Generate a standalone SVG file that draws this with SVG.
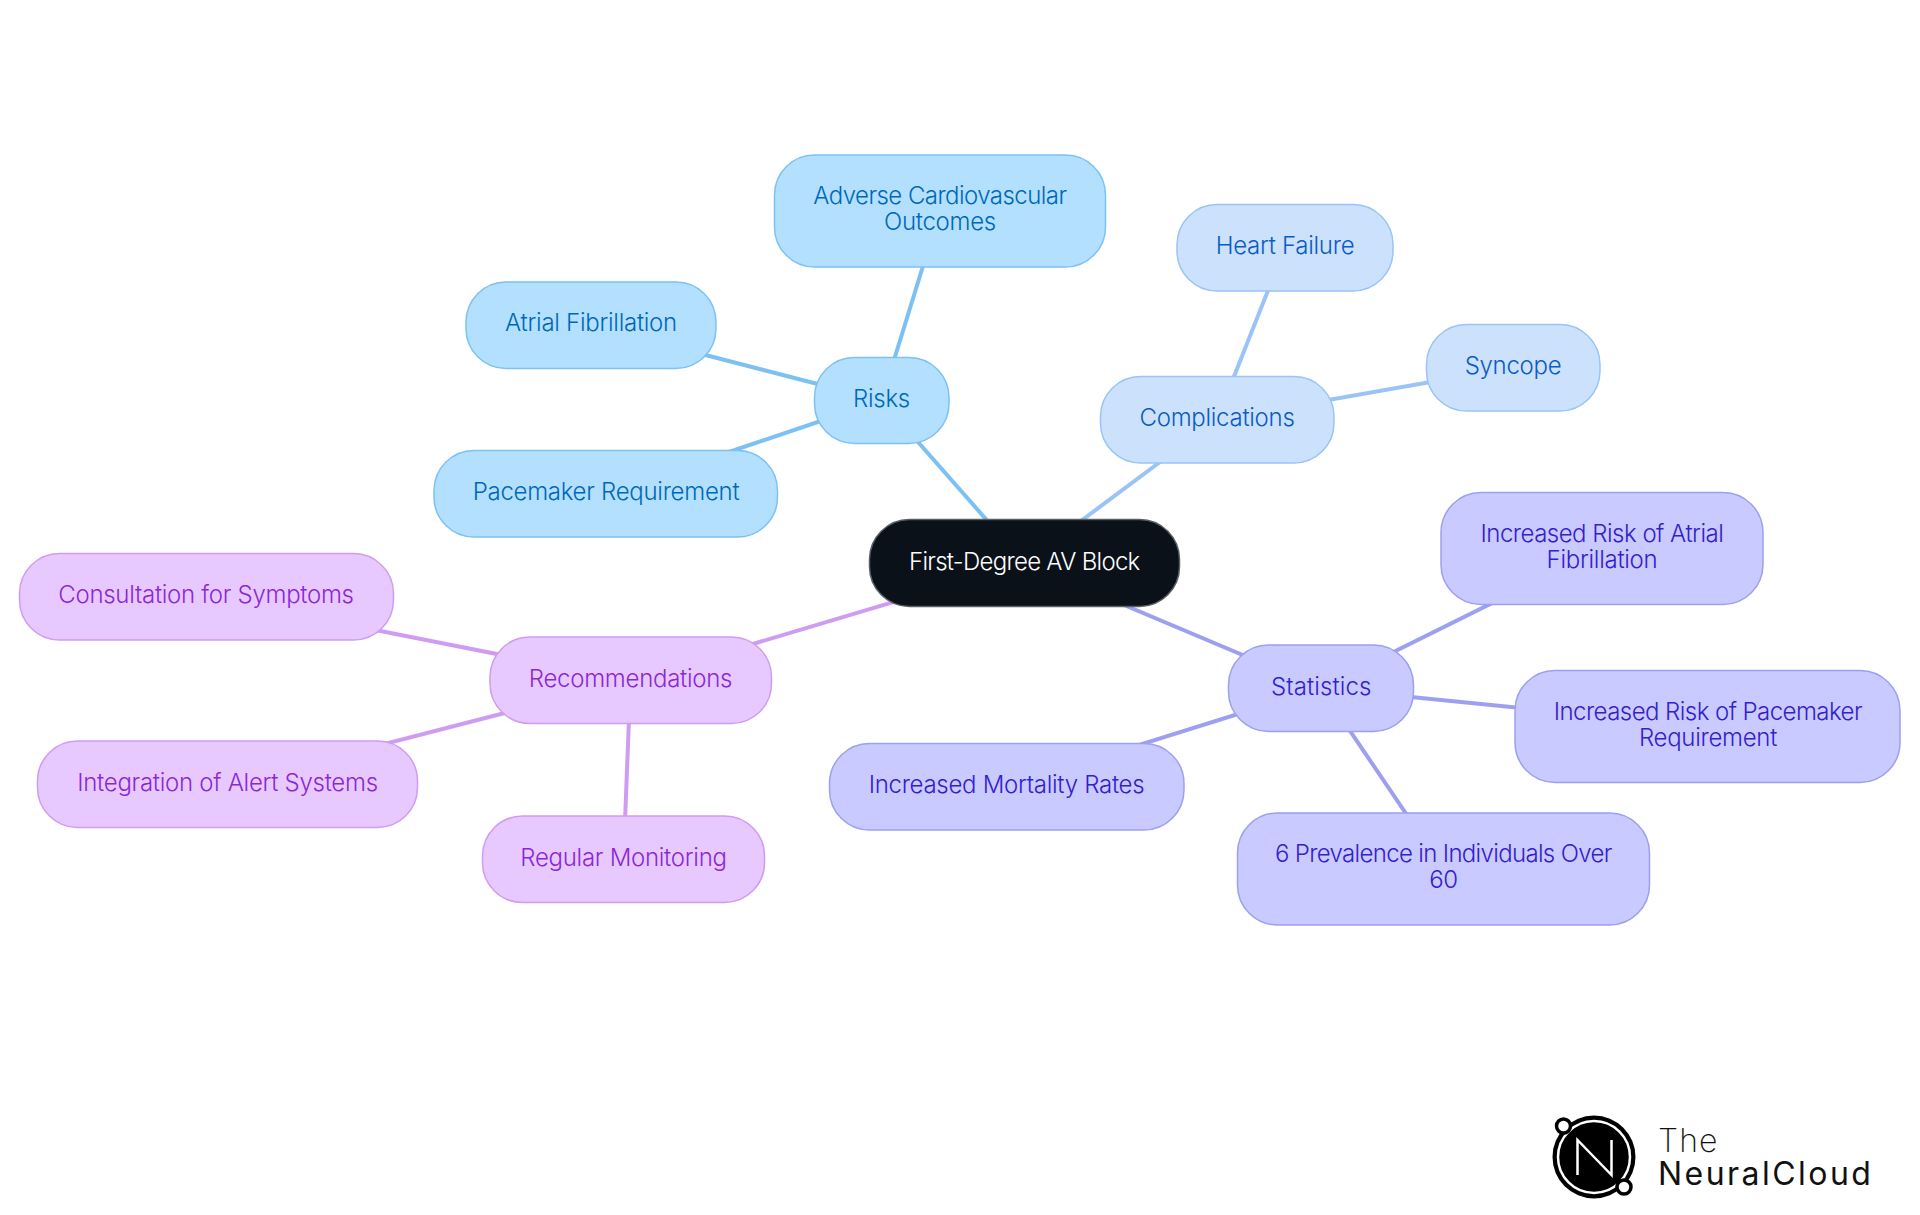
<svg xmlns="http://www.w3.org/2000/svg" width="1920" height="1215" viewBox="0 0 1920 1215">
<style>
text{font-family:"Inter","Noto Sans","Liberation Sans",sans-serif;font-size:24px;font-weight:300;text-anchor:middle;letter-spacing:-.28px}
.e{stroke-width:4;fill:none}
.n{stroke-width:1.5}
.r rect{fill:#b3e0ff;stroke:#7dc1f3}.r text{fill:#0068b8}.re{stroke:#7dc1f3}
.c rect{fill:#cce2fc;stroke:#99c4f5}.c text{fill:#0a5cc4}.ce{stroke:#99c4f5}
.s rect{fill:#c9caff;stroke:#9d9ff0}.s text{fill:#3420cc}.se{stroke:#9d9ff0}
.m rect{fill:#e8c9ff;stroke:#cf9cf2}.m text{fill:#8a28d6}.me{stroke:#cf9cf2}
</style>
<rect width="1920" height="1215" fill="#fff"/>
<g id="connectors" class="e">
<path class="re" d="M1024.500 563L881.500 400.500"/>
<path class="re" d="M881.500 400.500L940 211"/>
<path class="re" d="M881.500 400.500L591 325.500"/>
<path class="re" d="M881.500 400.500L606 493.500"/>
<path class="ce" d="M1024.500 563L1217 419.500"/>
<path class="ce" d="M1217 419.500L1285 247.500"/>
<path class="ce" d="M1217 419.500L1513 367.500"/>
<path class="se" d="M1024.500 563L1321 688"/>
<path class="se" d="M1321 688L1602 548.500"/>
<path class="se" d="M1321 688L1708 726.500"/>
<path class="se" d="M1321 688L1443.500 869"/>
<path class="se" d="M1321 688L1006.500 786.500"/>
<path class="me" d="M1024.500 563L630.500 680.500"/>
<path class="me" d="M630.500 680.500L206 596.500"/>
<path class="me" d="M630.500 680.500L227.500 784.500"/>
<path class="me" d="M630.500 680.500L623.500 859.500"/>
</g>
<g id="root"><rect x="869.500" y="519.500" width="310" height="87" rx="40" fill="#0b1119" stroke="#5a5f66" stroke-width="1.500"/><text x="1024.500" y="570" textLength="231" fill="#fff">First-Degree AV Block</text></g>
<g id="risks" class="r n"><rect x="814.500" y="357.500" width="134.500" height="86" rx="40"/><text x="881.500" y="407">Risks</text></g>
<g id="adverse" class="r n"><rect x="774.500" y="155" width="331" height="112" rx="40"/><text x="940" y="204" textLength="253.500">Adverse Cardiovascular</text><text x="940" y="230">Outcomes</text></g>
<g id="atrial" class="r n"><rect x="466" y="282" width="250" height="86.500" rx="40"/><text x="591" y="331">Atrial Fibrillation</text></g>
<g id="pacemaker" class="r n"><rect x="434" y="450.500" width="343.500" height="86.500" rx="40"/><text x="606" y="500">Pacemaker Requirement</text></g>
<g id="complications" class="c n"><rect x="1100.500" y="376.500" width="233.500" height="86.500" rx="40"/><text x="1217" y="426">Complications</text></g>
<g id="heart" class="c n"><rect x="1177" y="204.500" width="216" height="86.500" rx="40"/><text x="1285" y="254">Heart Failure</text></g>
<g id="syncope" class="c n"><rect x="1426.500" y="324.500" width="173.500" height="86.500" rx="40"/><text x="1513" y="374">Syncope</text></g>
<g id="statistics" class="s n"><rect x="1228.500" y="645" width="185" height="86.500" rx="40"/><text x="1321" y="695" textLength="100">Statistics</text></g>
<g id="stat-atrial" class="s n"><rect x="1441" y="492.500" width="322" height="112" rx="40"/><text x="1602" y="542" textLength="243">Increased Risk of Atrial</text><text x="1602" y="568">Fibrillation</text></g>
<g id="stat-pacemaker" class="s n"><rect x="1515" y="670.500" width="385" height="112" rx="40"/><text x="1708" y="720" textLength="308.500">Increased Risk of Pacemaker</text><text x="1708" y="746">Requirement</text></g>
<g id="stat-prevalence" class="s n"><rect x="1237.500" y="813" width="412" height="112" rx="40"/><text x="1443.500" y="862" textLength="337">6 Prevalence in Individuals Over</text><text x="1443.500" y="888">60</text></g>
<g id="stat-mortality" class="s n"><rect x="829.500" y="743.500" width="354.500" height="86.500" rx="40"/><text x="1006.500" y="793">Increased Mortality Rates</text></g>
<g id="recommendations" class="m n"><rect x="490" y="637" width="281.500" height="86.500" rx="40"/><text x="630.500" y="687">Recommendations</text></g>
<g id="consultation" class="m n"><rect x="19.500" y="553.500" width="374" height="86.500" rx="40"/><text x="206" y="603">Consultation for Symptoms</text></g>
<g id="integration" class="m n"><rect x="37.500" y="741" width="380" height="86.500" rx="40"/><text x="227.500" y="791">Integration of Alert Systems</text></g>
<g id="monitoring" class="m n"><rect x="482.500" y="816" width="282" height="86.500" rx="40"/><text x="623.500" y="866">Regular Monitoring</text></g>
<g id="logo">
<circle cx="1594" cy="1157" r="41.500" fill="#000"/>
<circle cx="1594" cy="1157" r="36" fill="none" stroke="#fff" stroke-width="2.500"/>
<circle cx="1563.500" cy="1126" r="7" fill="#fff" stroke="#000" stroke-width="3.500"/>
<circle cx="1624" cy="1187" r="7" fill="#fff" stroke="#000" stroke-width="3.500"/>
<path d="M1577.500 1175V1140L1611.500 1175V1140" fill="none" stroke="#fff" stroke-width="2.500"/>
<text x="1658" y="1152" textLength="60" style="font-size:32px;font-weight:200;text-anchor:start;letter-spacing:.5px" fill="#111">The</text>
<text x="1658" y="1185" textLength="214" style="font-size:32px;font-weight:400;text-anchor:start;letter-spacing:1.1px" fill="#111">NeuralCloud</text>
</g>
</svg>
